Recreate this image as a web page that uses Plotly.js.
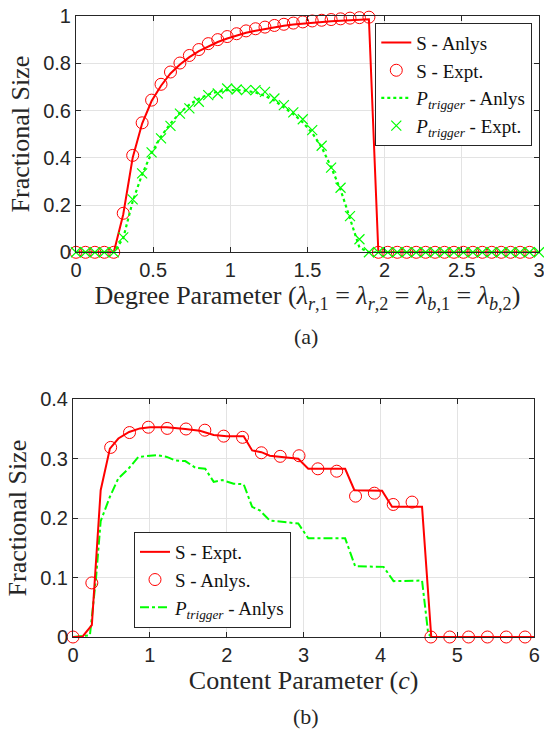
<!DOCTYPE html>
<html><head><meta charset="utf-8">
<script src="https://cdn.plot.ly/plotly-3.0.1.min.js"></script>
<style>html,body{margin:0;padding:0;background:#fff}#c{width:544px;height:729px}</style>
</head><body><div id="c"></div>
<script>
// ---- Panel (a): degree parameter ----
const degX = [0,0.0612,0.1224,0.1837,0.2449,0.3061,0.3673,0.4286,0.4898,0.5510,0.6122,0.6735,0.7347,0.7959,0.8571,0.9184,0.9796,1.0408,1.1020,1.1633,1.2245,1.2857,1.3469,1.4082,1.4694,1.5306,1.5918,1.6531,1.7143,1.7755,1.8367,1.8980,1.9592,2.0204,2.0816,2.1429,2.2041,2.2653,2.3265,2.3878,2.4490,2.5102,2.5714,2.6327,2.6939,2.7551,2.8163,2.8776,2.9388,3.0000];
const sAnlysA = [0,0,0,0,0,0.16,0.40,0.545,0.64,0.705,0.757,0.795,0.826,0.851,0.872,0.89,0.905,0.918,0.929,0.938,0.946,0.953,0.959,0.964,0.968,0.972,0.975,0.978,0.980,0.982,0.984,0.986,0,0,0,0,0,0,0,0,0,0,0,0,0,0,0,0,0,0];
const sExptA = [0,0,0,0,0,0.165,0.41,0.548,0.644,0.711,0.763,0.801,0.833,0.858,0.883,0.900,0.913,0.925,0.937,0.946,0.953,0.960,0.965,0.970,0.975,0.979,0.982,0.985,0.988,0.991,0.993,0.995,0,0,0,0,0,0,0,0,0,0,0,0,0,0,0,0,0,null];
const pAnlysA = [0,0,0,0,0,0.06,0.215,0.33,0.42,0.49,0.545,0.59,0.625,0.65,0.668,0.68,0.686,0.687,0.684,0.676,0.662,0.642,0.615,0.585,0.55,0.505,0.445,0.36,0.265,0.145,0.02,0,0,0,0,0,0,0,0,0,0,0,0,0,0,0,0,0,0,0];
const pExptA = [0,0,0,0,0,0.063,0.224,0.334,0.423,0.482,0.535,0.587,0.609,0.637,0.665,0.672,0.693,0.689,0.686,0.686,0.679,0.651,0.623,0.592,0.563,0.517,0.451,0.358,0.273,0.153,0.055,0,0,0,0,0,0,0,0,0,0,0,0,0,0,0,0,0,0,0];
const degTicks = [0,0.5,1,1.5,2,2.5,3];
const fracTicksA = [0,0.2,0.4,0.6,0.8,1];

// ---- Panel (b): content parameter ----
const conX = [0,0.245,0.49,0.735,0.98,1.225,1.47,1.715,1.96,2.205,2.45,2.695,2.94,3.185,3.43,3.675,3.92,4.165,4.41,4.655,4.9,5.145,5.39,5.635,5.88];
const sAnlysB = [0,0.091,0.319,0.344,0.353,0.351,0.350,0.348,0.338,0.336,0.310,0.304,0.305,0.283,0.279,0.237,0.242,0.223,0.227,0,0,0,0,0,0];
const sExptX = [0,0.12,0.245,0.36,0.48,0.59,0.73,0.87,1.0,1.22,1.46,1.65,1.83,2.0,2.22,2.33,2.45,2.56,2.93,3.06,3.54,3.66,4.02,4.15,4.54,4.66,6.0];
const sExptB = [0,0,0.02,0.247,0.317,0.334,0.345,0.351,0.353,0.353,0.350,0.347,0.340,0.338,0.338,0.314,0.311,0.305,0.300,0.283,0.283,0.247,0.246,0.219,0.219,0,0];
const pAnlysX = [0,0.22,0.3,0.36,0.48,0.59,0.72,0.85,1.09,1.22,1.33,1.46,1.59,1.72,1.83,1.94,2.09,2.22,2.33,2.43,2.56,2.93,3.06,3.54,3.67,4.04,4.17,4.54,4.62,4.66];
const pAnlysB = [0,0.003,0.1,0.195,0.236,0.267,0.283,0.303,0.306,0.303,0.297,0.296,0.285,0.283,0.261,0.264,0.258,0.257,0.219,0.213,0.196,0.191,0.166,0.166,0.119,0.118,0.094,0.095,0.006,0];
const conTicks = [0,1,2,3,4,5,6];
const fracTicksB = [0,0.1,0.2,0.3,0.4];

const RED = '#ff0000', GREEN = '#00ff00', AX = '#262626';
const SERIF = 'Liberation Serif, Times New Roman, serif';
const SANS = 'Liberation Sans, Arial, Helvetica, sans-serif';
const Ptrig = '<i>P</i><sub><i>trigger</i></sub>';

const data = [
  {x: degX, y: sAnlysA, type:'scatter', mode:'lines', name:'S - Anlys', line:{color:RED, width:2}, xaxis:'x', yaxis:'y', legend:'legend', legendrank:1, cliponaxis:false},
  {x: degX, y: sExptA, type:'scatter', mode:'markers', name:'S - Expt.', marker:{symbol:'circle-open', size:12, color:RED, line:{width:1}}, xaxis:'x', yaxis:'y', legend:'legend', legendrank:2, cliponaxis:false},
  {x: degX, y: pAnlysA, type:'scatter', mode:'lines', name: Ptrig + ' - Anlys', line:{color:GREEN, width:2.2, dash:'dot'}, xaxis:'x', yaxis:'y', legend:'legend', legendrank:3, cliponaxis:false},
  {x: degX, y: pExptA, type:'scatter', mode:'markers', name: Ptrig + ' - Expt.', marker:{symbol:'x-thin-open', size:10, color:GREEN, line:{width:1.2, color:GREEN}}, xaxis:'x', yaxis:'y', legend:'legend', legendrank:4, cliponaxis:false},

  {x: pAnlysX, y: pAnlysB, type:'scatter', mode:'lines', name: Ptrig + ' - Anlys', line:{color:GREEN, width:2, dash:'dashdot'}, xaxis:'x2', yaxis:'y2', legend:'legend2', legendrank:3, cliponaxis:false},
  {x: sExptX, y: sExptB, type:'scatter', mode:'lines', name:'S - Expt.', line:{color:RED, width:2}, xaxis:'x2', yaxis:'y2', legend:'legend2', legendrank:1, cliponaxis:false},
  {x: conX, y: sAnlysB, type:'scatter', mode:'markers', name:'S - Anlys.', marker:{symbol:'circle-open', size:12, color:RED, line:{width:1}}, xaxis:'x2', yaxis:'y2', legend:'legend2', legendrank:2, cliponaxis:false}
];

const axCommon = {
  showline:true, linecolor:AX, linewidth:1, mirror:'ticks', ticks:'inside', ticklen:5, tickcolor:AX,
  showgrid:true, gridcolor:'#e3e3e3', gridwidth:1, zeroline:false, ticklabeloverflow:'allow',
  tickfont:{family:SANS, size:20, color:AX}, automargin:false
};
const TITLEFONT = {family:SERIF, size:26, color:AX};

const layout = {
  width:544, height:729,
  margin:{l:73, r:5, t:16, b:92},
  paper_bgcolor:'#fff', plot_bgcolor:'#fff',
  showlegend:true,
  xaxis: Object.assign({}, axCommon, {domain:[0.0064,1], range:[0,3], tickvals:degTicks, anchor:'y',
    title:{text:'Degree Parameter (<i>λ</i><sub><i>r</i>,1</sub> = <i>λ</i><sub><i>r</i>,2</sub> = <i>λ</i><sub><i>b</i>,1</sub> = <i>λ</i><sub><i>b</i>,2</sub>)', font:TITLEFONT, standoff:4}}),
  yaxis: Object.assign({}, axCommon, {domain:[0.6195,1], range:[0,1], tickvals:fracTicksA, anchor:'x',
    title:{text:'Fractional Size', font:TITLEFONT, standoff:6}}),
  xaxis2: Object.assign({}, axCommon, {domain:[0,0.9899], range:[0,6], tickvals:conTicks, anchor:'y2',
    title:{text:'Content Parameter (<i>c</i>)', font:TITLEFONT, standoff:4}}),
  yaxis2: Object.assign({}, axCommon, {domain:[0,0.3828], range:[0,0.4], tickvals:fracTicksB, anchor:'x2',
    title:{text:'Fractional Size', font:TITLEFONT, standoff:6}}),
  legend: {x:0.9856, y:0.9892, xanchor:'right', yanchor:'top', bgcolor:'#fff', bordercolor:AX, borderwidth:1,
    font:{family:SERIF, size:19, color:'#111'}, itemwidth:30, tracegroupgap:0, traceorder:'normal'},
  legend2: {x:0.1309, y:0.0145, xanchor:'left', yanchor:'bottom', bgcolor:'#fff', bordercolor:AX, borderwidth:1,
    font:{family:SERIF, size:19, color:'#111'}, itemwidth:30, tracegroupgap:0, traceorder:'normal'},
  annotations: [
    {text:'(a)', xref:'paper', yref:'paper', x:(306-73)/466, y:(637-336)/621, showarrow:false, font:{family:SERIF, size:22, color:AX}, xanchor:'center', yanchor:'middle'},
    {text:'(b)', xref:'paper', yref:'paper', x:(306-73)/466, y:(637-717)/621, showarrow:false, font:{family:SERIF, size:22, color:AX}, xanchor:'center', yanchor:'middle'}
  ]
};

Plotly.newPlot('c', data, layout, {displayModeBar:false, staticPlot:true});
</script>
</body></html>
